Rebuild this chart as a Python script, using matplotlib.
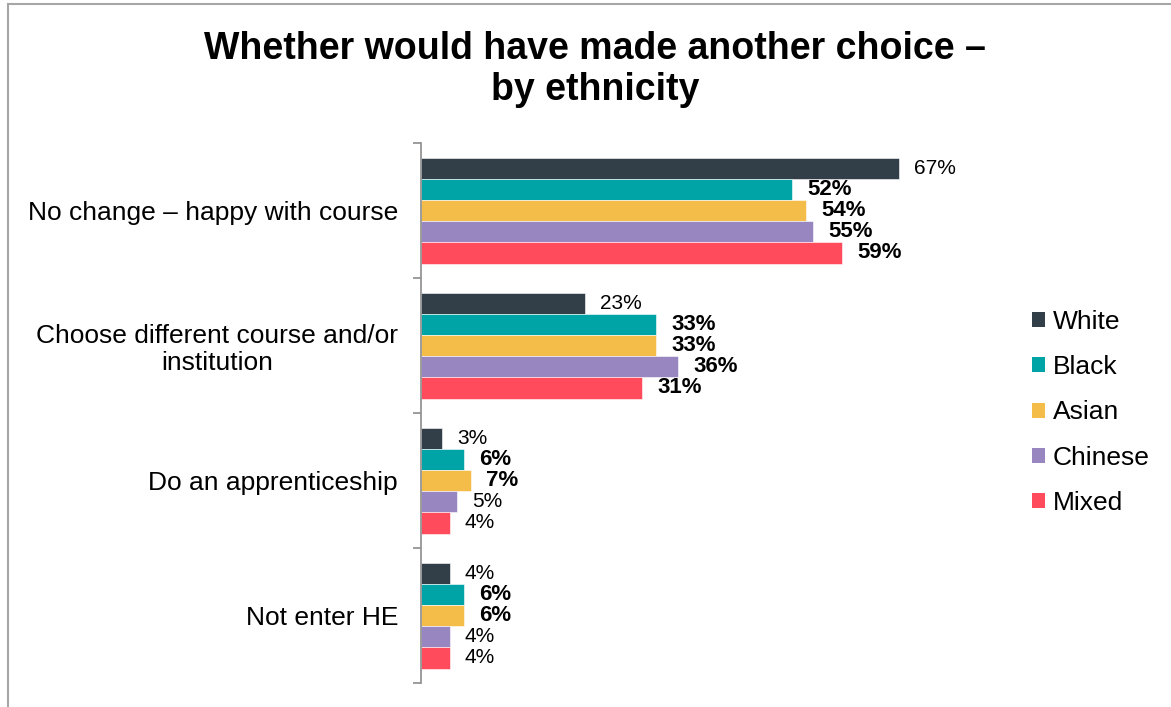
import matplotlib
matplotlib.use("Agg")
import matplotlib.pyplot as plt
from matplotlib.patches import Patch
from matplotlib.lines import Line2D
import numpy as np

plt.rcParams['font.family'] = ['Liberation Sans', 'DejaVu Sans']

categories = ["No change \u2013 happy with course",
              "Choose different course and/or\ninstitution",
              "Do an apprenticeship",
              "Not enter HE"]
groups = ["White", "Black", "Asian", "Chinese", "Mixed"]
colors = ["#333F48", "#00A3A6", "#F4BD4A", "#9786C0", "#FF4B5C"]

white = [67, 23, 3, 4]
black = [52, 33, 6, 6]
asian = [54, 33, 7, 6]
chinese = [55, 36, 5, 4]
mixed = [59, 31, 4, 4]

# which labels are shown in bold (per ethnicity, per category)
bold_white = [False, False, False, False]
bold_black = [True, True, True, True]
bold_asian = [True, True, True, True]
bold_chinese = [True, True, False, False]
bold_mixed = [True, True, False, False]

series = [white, black, asian, chinese, mixed]
bolds = [bold_white, bold_black, bold_asian, bold_chinese, bold_mixed]

fig = plt.figure(figsize=(11.71, 7.07), dpi=100)
ax = fig.add_axes([0.3595, 0.0339, 0.4874, 0.7638])

n = len(categories)
centers = np.arange(n)
h = 0.157
for k, (vals, flags) in enumerate(zip(series, bolds)):
    ys = centers + (k - 2) * h
    bars = ax.barh(ys, vals, height=h, color=colors[k], edgecolor="white",
                   linewidth=0.4, label=groups[k])
    for b, v, f in zip(bars, vals, flags):
        ax.annotate(f"{v}%", (b.get_width(), b.get_y() + b.get_height() / 2),
                    xytext=(11, 0), textcoords="offset points",
                    ha="left", va="center",
                    fontsize=16 if f else 15,
                    fontweight="bold" if f else "normal", color="black")

ax.set_xlim(0, 80)
ax.set_ylim(n - 0.5, -0.5)
ax.set_yticks(centers)
ax.set_yticklabels(categories, fontsize=19)
for t in ax.get_yticklabels():
    t.set_multialignment("center")
    t.set_linespacing(1.15)
ax.set_yticks(np.arange(-0.5, n, 1.0), minor=True)
ax.tick_params(axis="y", which="major", length=0, pad=16.5)
ax.tick_params(axis="y", which="minor", length=6, width=1.2, color="#8c8c8c")
ax.set_xticks([])
for s in ["top", "right", "bottom"]:
    ax.spines[s].set_visible(False)
ax.spines["left"].set_color("#8c8c8c")
ax.spines["left"].set_linewidth(1.2)

handles = [Patch(facecolor=c, edgecolor="none") for c in colors]
fig.legend(handles, groups, loc="center left", bbox_to_anchor=(0.861, 0.4167),
           frameon=False, fontsize=19, handlelength=0.5, handleheight=0.5,
           handletextpad=0.3, labelspacing=0.8)

fig.text(0.508, 0.902, "Whether would have made another choice \u2013\nby ethnicity",
         ha="center", va="center", fontsize=27, fontweight="bold",
         linespacing=1.18)

# outer frame lines (left and top edges)
fig.add_artist(Line2D([8 / 1171, 8 / 1171], [0, 1 - 4 / 707],
                      transform=fig.transFigure, color="#a6a6a6", lw=1.5))
fig.add_artist(Line2D([8 / 1171, 1], [1 - 4 / 707, 1 - 4 / 707],
                      transform=fig.transFigure, color="#a6a6a6", lw=1.5))

fig.savefig("out.png", dpi=100, facecolor="white")
